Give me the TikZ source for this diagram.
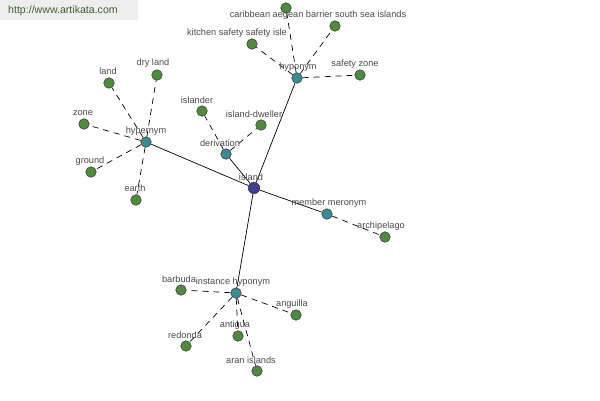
\documentclass[tikz,border=0pt]{standalone}
\usepackage{fontspec}
\setmainfont{Liberation Sans}
\definecolor{leafgreen}{HTML}{4F8A3E}
\definecolor{hubteal}{HTML}{3A8C92}
\definecolor{rootblue}{HTML}{3E3E8E}
\definecolor{wmbg}{HTML}{EEEEEE}
\definecolor{wmtext}{HTML}{3F5F30}
\definecolor{lbl}{HTML}{4A4A4A}
\begin{document}
\begin{tikzpicture}[x=1pt,y=-1pt,
  dot/.style={circle,draw=black!75,line width=0.6pt,minimum size=10.5pt,inner sep=0pt},
  leaf/.style={dot,fill=leafgreen},
  hub/.style={dot,fill=hubteal},
  root/.style={dot,fill=rootblue,minimum size=11.5pt},
  txt/.style={font=\fontsize{9.2}{11}\selectfont,text=lbl,inner sep=0pt},
  rel/.style={line width=0.7pt},
  sub/.style={line width=0.7pt,dash pattern=on 6pt off 5pt}]
\useasboundingbox (0,0) rectangle (600,400);
\fill[wmbg] (0,0) rectangle (138,20);
\node[font=\fontsize{10.6}{12}\selectfont,text=wmtext,anchor=west,inner sep=0pt] (wm) at (8,11) {http://www.artikata.com};

% hubs
\node[root] (island) at (254,188) {};
\node[hub] (hypernym) at (146,142) {};
\node[hub] (hyponym) at (297,78) {};
\node[hub] (derivation) at (226,154) {};
\node[hub] (meronym) at (327,214) {};
\node[hub] (instance) at (236,293) {};

% leaves
\node[leaf] (land) at (109,83) {};
\node[leaf] (dryland) at (157,75) {};
\node[leaf] (zone) at (84,124) {};
\node[leaf] (ground) at (91,172) {};
\node[leaf] (earth) at (136,200) {};
\node[leaf] (islander) at (202,111) {};
\node[leaf] (dweller) at (261,125) {};
\node[leaf] (caribbean) at (286,8) {};
\node[leaf] (southsea) at (335,26) {};
\node[leaf] (kitchen) at (252,44) {};
\node[leaf] (safetyzone) at (360,75) {};
\node[leaf] (archipelago) at (385,237) {};
\node[leaf] (barbuda) at (181,290) {};
\node[leaf] (anguilla) at (296,315) {};
\node[leaf] (antigua) at (238,336) {};
\node[leaf] (redonda) at (186,346) {};
\node[leaf] (aran) at (257,371) {};

% edges
\draw[rel] (island) -- (hypernym);
\draw[rel] (island) -- (hyponym);
\draw[rel] (island) -- (derivation);
\draw[rel] (island) -- (meronym);
\draw[rel] (island) -- (instance);
\foreach \l in {land,dryland,zone,ground,earth} \draw[sub] (hypernym) -- (\l);
\foreach \l in {caribbean,southsea,kitchen,safetyzone} \draw[sub] (hyponym) -- (\l);
\foreach \l in {islander,dweller} \draw[sub] (derivation) -- (\l);
\draw[sub] (meronym) -- (archipelago);
\foreach \l in {barbuda,anguilla,antigua,redonda,aran} \draw[sub] (instance) -- (\l);

% labels
\node[txt] (tland) at (108,71) {land};
\node[txt] (tdryland) at (153,63) {dry land};
\node[txt] (tzone) at (83,113) {zone};
\node[txt] (tground) at (90,161) {ground};
\node[txt] (tearth) at (135,188) {earth};
\node[txt] (thypernym) at (146,131) {hypernym};
\node[txt] (tislander) at (197,100) {islander};
\node[txt] (tdweller) at (254,114) {island-dweller};
\node[txt] (tderivation) at (220,143) {derivation};
\node[txt] (tisland) at (251,177) {island};
\node[txt] (tcarib) at (318,15) {caribbean aegean barrier south sea islands};
\node[txt] (tkitchen) at (237,33) {kitchen safety safety isle};
\node[txt] (thyponym) at (298,67) {hyponym};
\node[txt] (tsafety) at (355,64) {safety zone};
\node[txt] (tmeronym) at (329,203) {member meronym};
\node[txt] (tarch) at (381,226) {archipelago};
\node[txt] (tbarbuda) at (179,279) {barbuda};
\node[txt] (tinstance) at (233,282) {instance hyponym};
\node[txt] (tanguilla) at (292,304) {anguilla};
\node[txt] (tantigua) at (235,325) {antigua};
\node[txt] (tredonda) at (185,335) {redonda};
\node[txt] (taran) at (251,360) {aran islands};
\end{tikzpicture}
\end{document}
